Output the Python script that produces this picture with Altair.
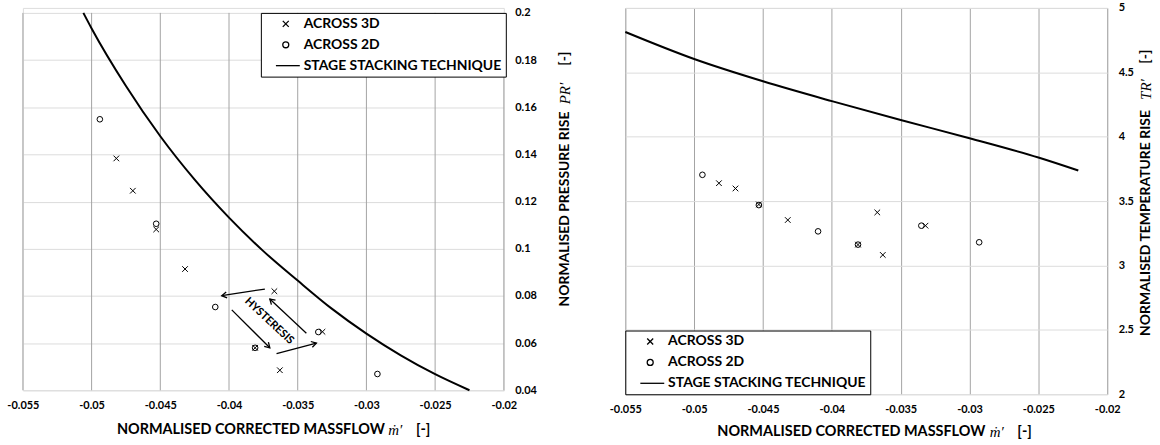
import altair as alt
import pandas as pd

# ---------------- data ----------------
series_names = ["ACROSS 3D", "ACROSS 2D", "STAGE STACKING TECHNIQUE"]

# left panel: normalised pressure rise
pr_3d_x = [-0.0482, -0.0470, -0.0453, -0.0432, -0.0367, -0.0381, -0.0332, -0.0363]
pr_3d_y = [0.1383, 0.1246, 0.1082, 0.0914, 0.0820, 0.0580, 0.0648, 0.0485]
pr_2d_x = [-0.0494, -0.0453, -0.0410, -0.0381, -0.0335, -0.0292]
pr_2d_y = [0.1549, 0.1106, 0.0753, 0.0580, 0.0647, 0.0469]
pr_sst_x = [-0.0506, -0.0500, -0.0475, -0.0450, -0.0425, -0.0400, -0.0375,
            -0.0350, -0.0325, -0.0300, -0.0275, -0.0250, -0.0225]
pr_sst_y = [0.2000, 0.1934, 0.1690, 0.1477, 0.1293, 0.1132, 0.0990,
            0.0865, 0.0745, 0.0640, 0.0548, 0.0468, 0.0400]

# hysteresis arrows (left panel)
arr_x = [-0.03739, -0.03980, -0.03654, -0.03437]
arr_y = [0.08293, 0.07410, 0.05550, 0.06420]
arr_x2 = [-0.04053, -0.03703, -0.03364, -0.03703]
arr_y2 = [0.08010, 0.05800, 0.06000, 0.07870]
arr_angle = [171, 45, 345, 223]
hyst_x = [-0.03708]
hyst_y = [0.0693]

# right panel: normalised temperature rise
tr_3d_x = [-0.0482, -0.0470, -0.0453, -0.0432, -0.0367, -0.0381, -0.0332, -0.0363]
tr_3d_y = [3.639, 3.598, 3.474, 3.353, 3.412, 3.162, 3.309, 3.082]
tr_2d_x = [-0.0494, -0.0453, -0.0410, -0.0381, -0.0335, -0.0293]
tr_2d_y = [3.704, 3.469, 3.265, 3.162, 3.309, 3.180]
tr_sst_x = [-0.0550, -0.0500, -0.0450, -0.0400, -0.0350, -0.0300, -0.0250, -0.0221]
tr_sst_y = [4.813, 4.603, 4.430, 4.276, 4.130, 3.988, 3.838, 3.737]

x_ticks = [-0.055, -0.05, -0.045, -0.04, -0.035, -0.03, -0.025, -0.02]
pr_ticks = [0.04, 0.06, 0.08, 0.1, 0.12, 0.14, 0.16, 0.18, 0.2]
tr_ticks = [2, 2.5, 3, 3.5, 4, 4.5, 5]

# ---------------- styling ----------------
FONT = "Lato"
XPATH = "M-1,-1L1,1M-1,1L1,-1"
LINEPATH = "M-3.3,0L4.7,0"
HEADPATH = "M-1,-0.6L0,0L-1,0.6"
X_DOMAIN = [-0.055, -0.02]
PR_DOMAIN = [0.04, 0.2 + 0.16 * 5 / 379]   # a few pixels of headroom above 0.2
TR_DOMAIN = [2, 5]


def x_enc(field="x", grid=True):
    return alt.X(f"{field}:Q",
                 scale=alt.Scale(domain=X_DOMAIN, nice=False, zero=False),
                 axis=alt.Axis(values=x_ticks, grid=grid, gridColor="#a3a3a3", gridWidth=1,
                               ticks=False, domain=False, labelFont=FONT, labelFontWeight="bold",
                               labelFontSize=11, labelColor="black", labelPadding=9,
                               labelFlush=False, labelOverlap=False,
                               labelExpr="'' + datum.value", title=None))


def y_enc(domain, ticks, field="y"):
    return alt.Y(f"{field}:Q",
                 scale=alt.Scale(domain=domain, nice=False, zero=False),
                 axis=alt.Axis(orient="right", values=ticks, grid=True, gridColor="#dcdcdc",
                               gridWidth=1, ticks=False, domain=False, labelFont=FONT,
                               labelFontWeight="bold", labelFontSize=11, labelColor="black",
                               labelPadding=11, labelAlign="left", labelFlush=False,
                               labelOverlap=False, labelExpr="'' + datum.value", title=None))


def text_piece(s, x, y, angle=0, serif=False, size=14):
    font = "Liberation Serif, DejaVu Serif, serif" if serif else FONT
    return alt.Chart(pd.DataFrame({"t": [s]})).mark_text(
        font=font, fontSize=size + (1 if serif else 0),
        fontWeight="normal" if serif else "bold",
        fontStyle="italic" if serif else "normal",
        angle=angle, align="center", baseline="middle", color="black"
    ).encode(text="t:N", x=alt.value(x), y=alt.value(y))


def legend(**kw):
    return alt.Legend(title=None, strokeColor="black", fillColor="white",
                      padding=4, symbolOffset=14, symbolSize=36,
                      symbolStrokeWidth=1.3, symbolStrokeColor="black",
                      labelFont=FONT, labelFontSize=14, labelFontWeight="bold",
                      labelColor="black", labelOffset=11, rowPadding=7,
                      labelLimit=400, cornerRadius=0, **kw)


def panel(p3x, p3y, p2x, p2y, sx, sy, ydomain, yticks, leg, xgrid,
          xtitle_pos, ytitle_x, ytitle_pos, ylabel, ysym):
    pts = pd.DataFrame({
        "x": p3x + p2x,
        "y": p3y + p2y,
        "series": [series_names[0]] * len(p3x) + [series_names[1]] * len(p2x),
    })
    line_df = pd.DataFrame({"x": sx, "y": sy})

    line = alt.Chart(line_df).mark_line(color="black", strokeWidth=2, interpolate="monotone").encode(
        x=x_enc(grid=xgrid), y=y_enc(ydomain, yticks))

    points = alt.Chart(pts).mark_point(filled=False, color="black", strokeWidth=1, size=32, opacity=1).encode(
        x=x_enc(grid=xgrid), y=y_enc(ydomain, yticks),
        shape=alt.Shape("series:N",
                        scale=alt.Scale(domain=series_names, range=[XPATH, "circle", LINEPATH]),
                        legend=leg))

    (tx, ty), (mx, my), (bx, by) = xtitle_pos
    titles = [text_piece("NORMALISED CORRECTED MASSFLOW", tx, ty, size=14.5),
              text_piece("ṁ′", mx, my, serif=True),
              text_piece("[-]", bx, by, size=14.5)]
    (ay, sy_, by_) = ytitle_pos
    titles += [text_piece(ylabel, ytitle_x, ay, angle=270),
               text_piece(ysym, ytitle_x, sy_, angle=270, serif=True),
               text_piece("[-]", ytitle_x, by_, angle=270)]
    return line, points, titles


# ---------------- left panel ----------------
l_line, l_points, l_titles = panel(
    pr_3d_x, pr_3d_y, pr_2d_x, pr_2d_y, pr_sst_x, pr_sst_y,
    PR_DOMAIN, pr_ticks, legend(orient="none", legendX=239, legendY=5), False,
    [(229, 424), (374, 424), (402, 424)], 544, (202, 86, 51),
    "NORMALISED PRESSURE RISE", "PR′")

vgrid = alt.Chart(pd.DataFrame({"x": x_ticks, "y": [0.04] * len(x_ticks),
                                "y2": [0.2] * len(x_ticks)})).mark_rule(
    color="#a3a3a3", strokeWidth=1).encode(
    x=x_enc(grid=False), y=y_enc(PR_DOMAIN, pr_ticks), y2="y2:Q")

arrows = pd.DataFrame({"x": arr_x, "y": arr_y, "x2": arr_x2, "y2": arr_y2, "ang": arr_angle})
shafts = alt.Chart(arrows).mark_rule(color="black", strokeWidth=1.3).encode(
    x=x_enc(grid=False), y=y_enc(PR_DOMAIN, pr_ticks), x2="x2:Q", y2="y2:Q")
heads = alt.Chart(arrows).mark_point(shape=HEADPATH, filled=False, color="black",
                                     strokeWidth=1.3, size=100, opacity=1).encode(
    x=x_enc("x2", grid=False), y=y_enc(PR_DOMAIN, pr_ticks, "y2"),
    angle=alt.Angle("ang:Q", scale=None))
hyst = alt.Chart(pd.DataFrame({"x": hyst_x, "y": hyst_y, "t": ["HYSTERESIS"]})).mark_text(
    font=FONT, fontSize=11, fontWeight="bold", angle=43, color="black",
    align="center", baseline="middle").encode(
    x=x_enc(grid=False), y=y_enc(PR_DOMAIN, pr_ticks), text="t:N")

left = alt.layer(vgrid, l_line, l_points, shafts, heads, hyst, *l_titles).properties(
    width=483, height=384)

# ---------------- right panel ----------------
r_line, r_points, r_titles = panel(
    tr_3d_x, tr_3d_y, tr_2d_x, tr_2d_y, tr_sst_x, tr_sst_y,
    TR_DOMAIN, tr_ticks, legend(orient="bottom-left", offset=0), True,
    [(227, 426), (373, 426), (401, 426)], 523, (216, 82, 49),
    "NORMALISED TEMPERATURE RISE", "TR′")
right = alt.layer(r_line, r_points, *r_titles).properties(width=484, height=388)

chart = alt.hconcat(left, right, spacing=122, bounds="flush").resolve_scale(
    x="independent", y="independent", shape="independent").configure_view(
    stroke=None).configure(
    background="white", padding={"left": 6, "top": 0, "right": 5, "bottom": 0})

chart.save("out.html", embed_options={"renderer": "svg", "actions": False})
